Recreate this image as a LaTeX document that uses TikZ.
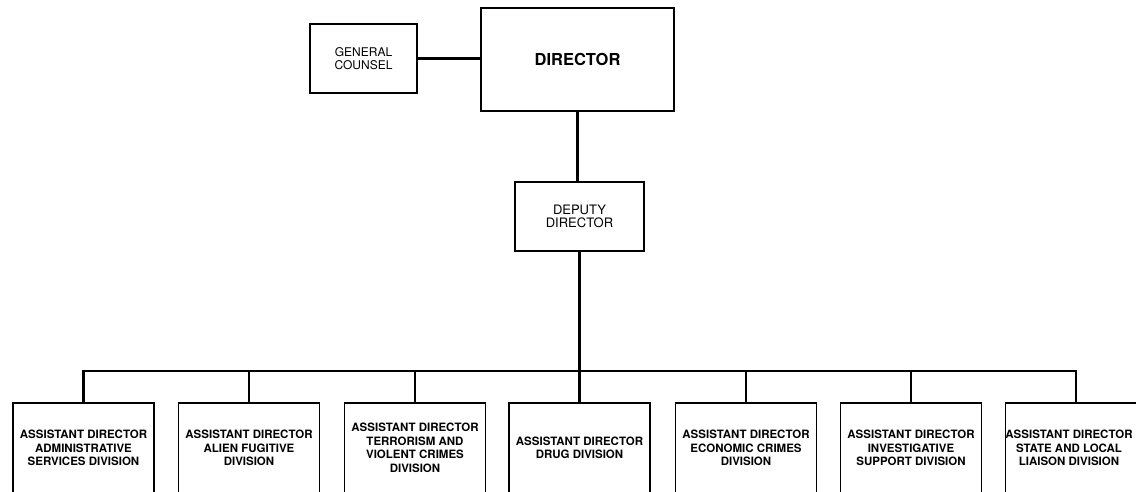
\documentclass[tikz,border=0pt]{standalone}
\usepackage{fontspec}
\setmainfont{TeX Gyre Heros}
\begin{document}
\begin{tikzpicture}[x=1pt,y=-1pt,
  box/.style={draw=black, line width=1.8pt, fill=white, align=center, inner sep=0pt, line join=miter},
  conn/.style={draw=black, line width=2.8pt},
  adfont/.style={font=\bfseries\fontsize{11.5}{13.5}\selectfont},
  adbox/.style={box, minimum width=141pt, minimum height=90pt, adfont}]
\useasboundingbox (0,0) rectangle (1136,491);
\clip (0,0) rectangle (1136,491);
\fill[white] (0,0) rectangle (1136,491);
% top
\node[box, minimum width=193pt, minimum height=103pt, font=\bfseries\fontsize{16.5}{19}\selectfont] (dir) at (577.5,59.5) {DIRECTOR};
\node[box, minimum width=107pt, minimum height=69pt, font=\fontsize{12}{12.5}\selectfont] (gc) at (363.5,58.5) {GENERAL\\COUNSEL};
\node[box, minimum width=129pt, minimum height=69pt, font=\fontsize{13}{13.5}\selectfont] (dep) at (579.5,216.5) {DEPUTY\\DIRECTOR};
% bottom row
\node[adbox] (b1) at (83.5,448) {ASSISTANT DIRECTOR\\ADMINISTRATIVE\\SERVICES DIVISION};
\node[adbox] (b2) at (249,448) {ASSISTANT DIRECTOR\\ALIEN FUGITIVE\\DIVISION};
\node[adbox] (b3) at (415,448) {ASSISTANT DIRECTOR\\TERRORISM AND\\VIOLENT CRIMES\\DIVISION};
\node[adbox] (b4) at (579.5,448) {ASSISTANT DIRECTOR\\DRUG DIVISION};
\node[adbox] (b5) at (746,448) {ASSISTANT DIRECTOR\\ECONOMIC CRIMES\\DIVISION};
\node[adbox] (b6) at (911,448) {ASSISTANT DIRECTOR\\INVESTIGATIVE\\SUPPORT DIVISION};
\node[adbox] (b7) at (1076,448) {};
\node[adfont, align=center, inner sep=0pt] (b7t) at (1069,448) {ASSISTANT DIRECTOR\\STATE AND LOCAL\\LIAISON DIVISION};
\coordinate (bus) at (0,371);
% connectors
\draw[conn] (gc.east) -- (gc.east -| dir.west);
\draw[conn] (dir.south) -- (dir.south |- dep.north);
\draw[conn] (dep.south) -- (dep.south |- bus);
\draw[conn, line join=miter] (b1.north) -- (b1.north |- bus) -- (b7.north |- bus) -- (b7.north);
\foreach \n in {b2,b3,b4,b5,b6} {\draw[conn] (\n.north) -- (\n.north |- bus);}
\end{tikzpicture}
\end{document}
